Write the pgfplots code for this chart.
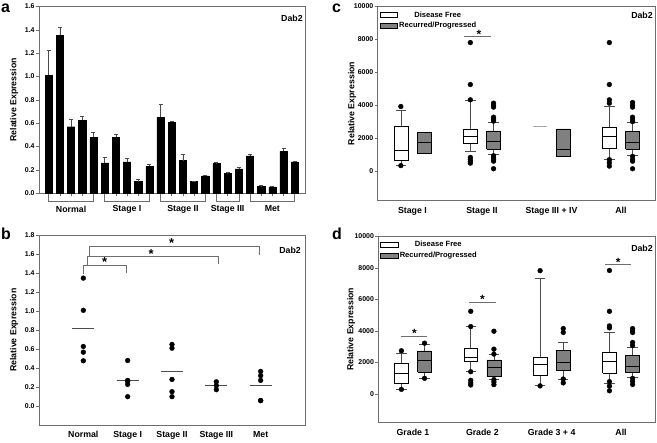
\documentclass[border=0pt]{standalone}
\usepackage{pgfplots}
\pgfplotsset{compat=1.18}
\usepackage{fontspec}
\setmainfont{Liberation Sans}
\definecolor{boxgray}{HTML}{808080}
\definecolor{frame}{HTML}{6E6E6E}

\newcommand{\tickfont}{\fontsize{7}{7}\selectfont\bfseries}
\newcommand{\labfont}{\fontsize{8.8}{9}\selectfont\bfseries}
\newcommand{\legfont}{\fontsize{7.6}{8}\selectfont\bfseries}
\newcommand{\panelfont}{\fontsize{16}{16}\selectfont\bfseries}

% group bracket under panel a: first bar, last bar, centre, label
\newcommand{\grp}[4]{%
  \draw[frame, line width=0.5bp] ([yshift=-3bp]axis cs:#1,0) -- ([yshift=-8.4bp]axis cs:#1,0)
     -- ([yshift=-8.4bp]axis cs:#2,0) -- ([yshift=-3bp]axis cs:#2,0);
  \node[font=\labfont, anchor=center, inner sep=0] at ([yshift=-15.7bp]axis cs:#3,0) {#4};}

% one box: position, lower whisker, lower quartile, median, upper quartile, upper whisker, fill
\newcommand{\bxp}[7]{%
  \pgfmathsetmacro\bxL{#1-0.1}\pgfmathsetmacro\bxR{#1+0.1}%
  \pgfmathsetmacro\cpL{#1-0.075}\pgfmathsetmacro\cpR{#1+0.075}%
  \addplot[whisk] coordinates {(#1,#2) (#1,#3)};
  \addplot[whisk] coordinates {(#1,#5) (#1,#6)};
  \addplot[whisk] coordinates {(\cpL,#2) (\cpR,#2)};
  \addplot[whisk] coordinates {(\cpL,#6) (\cpR,#6)};
  \addplot[draw=black, line width=0.5bp, fill=#7] coordinates {(\bxL,#3) (\bxR,#3) (\bxR,#5) (\bxL,#5) (\bxL,#3)};
  \addplot[draw=black, line width=0.5bp] coordinates {(\bxL,#4) (\bxR,#4)};
}

\newcommand{\sigstar}[2]{\node[font=\fontsize{12}{12}\selectfont\bfseries, inner sep=0, yshift=-2.6bp] at (axis cs:#1,#2) {*};}

\pgfplotsset{
  panel/.style={
    scale only axis, clip=false, anchor=south west,
    axis line style={frame, line width=0.6bp},
    tick align=outside, major tick length=3bp,
    tick style={frame, line width=0.5bp},
    tick label style={font=\tickfont},
    yticklabel style={inner sep=1.2bp},
    /pgf/number format/assume math mode=true,
    label style={font=\labfont},
    ylabel={Relative Expression},
    xtick pos=bottom, ytick pos=left,
  },
  boxpanel/.style={
    panel, xmin=0.5, xmax=4.5, ymin=-1800, ymax=10000,
    ytick={0,2000,4000,6000,8000,10000}, scaled y ticks=false,
    yticklabel style={/pgf/number format/1000 sep={}},
    xtick={1,2,3,4}, xtick style={draw=none},
    xticklabel style={font=\labfont},
    legend style={at={(axis description cs:0.006,0.982)}, anchor=north west,
      draw=none, fill=none, font=\legfont, inner sep=0pt, row sep=0.6bp,
      nodes={inner sep=1.6bp}},
    legend image code/.code={\draw[#1, line width=0.5bp] (0bp,-2.4bp) rectangle (17.5bp,2.4bp);},
  },
  whisk/.style={draw=black!70, line width=0.5bp},
  outl/.style={only marks, mark=*, mark size=2.4bp, mark options={draw=black, fill=black}},
}

\begin{document}
\begin{tikzpicture}
\path (0,0) rectangle (657bp,437bp);

% ---------------- panel a ----------------
\node[font=\panelfont, anchor=base west, inner sep=0] at (1bp,424.5bp) {a};
\begin{axis}[panel, at={(39bp,243.7bp)}, width=266bp, height=186.8bp,
  xmin=0.13, xmax=23.92, ymin=0, ymax=1.6,
  ytick={0,0.2,0.4,0.6,0.8,1.0,1.2,1.4,1.6},
  yticklabel style={/pgf/number format/.cd, fixed, fixed zerofill, precision=1},
  xtick={1,...,23}, xticklabels={},
  ylabel style={at={(axis description cs:-0.094,0.5)}, anchor=center},
]
\addplot[ybar, bar width=7.2bp, fill=black, draw=black,
  error bars/.cd, y dir=plus, y explicit,
  error bar style={black!70, line width=0.5bp},
  error mark options={rotate=90, mark size=2bp, black!70, line width=0.5bp}]
coordinates {
  (1,1.01) +- (0,0.215)   (2,1.355) +- (0,0.065)  (3,0.57) +- (0,0.065)
  (4,0.625) +- (0,0.035)  (5,0.48) +- (0,0.04)
  (6,0.26) +- (0,0.05)    (7,0.48) +- (0,0.025)   (8,0.27) +- (0,0.03)
  (9,0.10) +- (0,0.02)    (10,0.23) +- (0,0.02)
  (11,0.65) +- (0,0.11)   (12,0.61) +- (0,0.01)   (13,0.28) +- (0,0.055)
  (14,0.10) +- (0,0.004)  (15,0.15) +- (0,0.004)
  (16,0.255) +- (0,0.01)  (17,0.17) +- (0,0.006)  (18,0.21) +- (0,0.015)
  (19,0.32) +- (0,0.015)  (20,0.06) +- (0,0.005)  (21,0.055) +- (0,0.004)
  (22,0.36) +- (0,0.03)   (23,0.27) +- (0,0.005)
};
\grp{1}{5}{3}{Normal}
\grp{6}{10}{8}{Stage I}
\grp{11}{15}{13}{Stage II}
\grp{16}{18}{17}{Stage III}
\grp{19}{23}{21}{Met}
\node[font=\labfont, anchor=north east, inner sep=0] at (axis description cs:0.992,0.955) {Dab2};
\end{axis}

% ---------------- panel b ----------------
\node[font=\panelfont, anchor=base west, inner sep=0] at (1bp,197bp) {b};
\begin{axis}[panel, at={(39bp,12.1bp)}, width=266bp, height=189.4bp,
  xmin=0, xmax=6, ymin=-0.2, ymax=1.8,
  ytick={0,0.2,0.4,0.6,0.8,1.0,1.2,1.4,1.6,1.8},
  yticklabel style={/pgf/number format/.cd, fixed, fixed zerofill, precision=1},
  xtick={1,2,3,4,5}, xticklabels={Normal, Stage I, Stage II, Stage III, Met},
  xtick style={draw=none},
  xticklabel style={font=\labfont},
  ylabel style={at={(axis description cs:-0.094,0.5)}, anchor=center},
]
\addplot[only marks, mark=*, mark size=2.4bp, black] coordinates {
  (1,1.35) (1,1.01) (1,0.628) (1,0.568) (1,0.477)
  (2,0.48) (2,0.27) (2,0.26) (2,0.228) (2,0.098)
  (3,0.65) (3,0.61) (3,0.28) (3,0.151) (3,0.098)
  (4,0.255) (4,0.214) (4,0.172)
  (5,0.365) (5,0.32) (5,0.27) (5,0.058) (5,0.056)
};
\addplot[black!70, line width=0.6bp] coordinates {(0.75,0.818) (1.25,0.818)};
\addplot[black!70, line width=0.6bp] coordinates {(1.75,0.272) (2.25,0.272)};
\addplot[black!70, line width=0.6bp] coordinates {(2.75,0.368) (3.25,0.368)};
\addplot[black!70, line width=0.6bp] coordinates {(3.75,0.218) (4.25,0.218)};
\addplot[black!70, line width=0.6bp] coordinates {(4.75,0.218) (5.25,0.218)};
\draw[frame, line width=0.6bp] (axis cs:1.0,1.397) -- (axis cs:1.0,1.484) -- (axis cs:1.97,1.484) -- (axis cs:1.97,1.40);
\draw[frame, line width=0.6bp] (axis cs:1.08,1.484) -- (axis cs:1.08,1.579) -- (axis cs:4.04,1.579) -- (axis cs:4.04,1.495);
\draw[frame, line width=0.6bp] (axis cs:1.13,1.579) -- (axis cs:1.13,1.688) -- (axis cs:4.96,1.688) -- (axis cs:4.96,1.596);
\node[font=\fontsize{13}{13}\selectfont\bfseries, inner sep=0, yshift=-2.8bp] at (axis cs:1.48,1.545) {*};
\node[font=\fontsize{13}{13}\selectfont\bfseries, inner sep=0, yshift=-2.8bp] at (axis cs:2.53,1.63) {*};
\node[font=\fontsize{13}{13}\selectfont\bfseries, inner sep=0, yshift=-2.8bp] at (axis cs:2.99,1.745) {*};
\node[font=\labfont, anchor=north east, inner sep=0] at (axis description cs:0.985,0.94) {Dab2};
\end{axis}

% ---------------- panel c ----------------
\node[font=\panelfont, anchor=base west, inner sep=0] at (332bp,424.5bp) {c};
\begin{axis}[boxpanel, at={(377.7bp,236.3bp)}, width=278bp, height=194.4bp,
  xticklabels={Stage I, Stage II, Stage III + IV, All},
  ylabel style={at={(axis description cs:-0.092,0.5)}, anchor=center},
]
\addlegendimage{draw=black, fill=white}
\addlegendentry{Disease Free}
\addlegendimage{draw=black, fill=boxgray}
\addlegendentry{Recurred/Progressed}
\bxp{0.833}{364}{667}{1273}{2707}{3717}{white}
\bxp{1.167}{1071}{1071}{1737}{2363}{2363}{boxgray}
\bxp{1.833}{1192}{1697}{2121}{2566}{4283}{white}
\bxp{2.167}{1030}{1313}{1818}{2444}{2969}{boxgray}
\addplot[draw=black!35, line width=0.8bp] coordinates {(2.733,2707) (2.933,2707)};
\bxp{3.167}{889}{889}{1333}{2566}{2566}{boxgray}
\bxp{3.833}{707}{1394}{2101}{2666}{3919}{white}
\bxp{4.167}{970}{1313}{1757}{2424}{2969}{boxgray}
\addplot[outl] coordinates {
  (0.833,3919) (0.833,330)
  (1.833,7797) (1.833,5252) (1.833,4323) (1.833,830) (1.833,700) (1.833,580) (1.833,480)
  (2.167,4120) (2.167,4000) (2.167,3880) (2.167,3270) (2.167,3150) (2.167,3030)
  (2.167,930) (2.167,800) (2.167,700) (2.167,600) (2.167,140)
  (3.833,7797) (3.833,5252) (3.833,4323) (3.833,4121) (3.833,690) (3.833,500) (3.833,300)
  (4.167,4160) (4.167,4000) (4.167,3880) (4.167,3270) (4.167,3100) (4.167,3000)
  (4.167,890) (4.167,700) (4.167,600) (4.167,140)
};
\draw[frame, line width=0.6bp] (axis cs:1.744,8200) -- (axis cs:2.128,8200);
\sigstar{1.958}{8470}
\node[font=\labfont, anchor=north east, inner sep=0] at (axis description cs:0.99,0.97) {Dab2};
\end{axis}

% ---------------- panel d ----------------
\node[font=\panelfont, anchor=base west, inner sep=0] at (332bp,197bp) {d};
\begin{axis}[boxpanel, at={(378.3bp,14.7bp)}, width=277.4bp, height=186bp,
  xticklabels={Grade 1, Grade 2, Grade 3 + 4, All},
  ylabel style={at={(axis description cs:-0.098,0.5)}, anchor=center},
]
\addlegendimage{draw=black, fill=white}
\addlegendentry{Disease Free}
\addlegendimage{draw=black, fill=boxgray}
\addlegendentry{Recurred/Progressed}
\bxp{0.833}{316}{652}{1326}{1937}{2568}{white}
\bxp{1.167}{1010}{1389}{2147}{2737}{3179}{boxgray}
\bxp{1.833}{1410}{2042}{2337}{2926}{4315}{white}
\bxp{2.167}{905}{1137}{1663}{2168}{2526}{boxgray}
\bxp{2.833}{520}{1170}{1880}{2345}{7310}{white}
\bxp{3.167}{947}{1495}{2021}{2758}{3305}{boxgray}
\bxp{3.833}{674}{1326}{2084}{2652}{3894}{white}
\bxp{4.167}{1031}{1347}{1747}{2442}{2947}{boxgray}
\addplot[outl] coordinates {
  (0.833,2736) (0.833,290)
  (1.167,3220) (1.167,990)
  (1.833,5242) (1.833,4273) (1.833,1410) (1.833,863) (1.833,700) (1.833,568)
  (2.167,3979) (2.167,2842) (2.167,2526) (2.167,905) (2.167,758) (2.167,590)
  (2.833,7820) (2.833,510)
  (3.167,4147) (3.167,3900) (3.167,947) (3.167,700)
  (3.833,7831) (3.833,5242) (3.833,4315) (3.833,4190) (3.833,780) (3.833,500) (3.833,200)
  (4.167,4147) (4.167,4000) (4.167,3894) (4.167,3263) (4.167,3070) (4.167,990) (4.167,800) (4.167,600)
};
\draw[frame, line width=0.6bp] (axis cs:0.823,3684) -- (axis cs:1.206,3684);
\sigstar{1.02}{3990}
\draw[frame, line width=0.6bp] (axis cs:1.81,5831) -- (axis cs:2.19,5831);
\sigstar{2.0}{6190}
\draw[frame, line width=0.6bp] (axis cs:3.77,8209) -- (axis cs:4.14,8209);
\sigstar{3.96}{8510}
\node[font=\labfont, anchor=north east, inner sep=0] at (axis description cs:0.99,0.955) {Dab2};
\end{axis}
\end{tikzpicture}
\end{document}
